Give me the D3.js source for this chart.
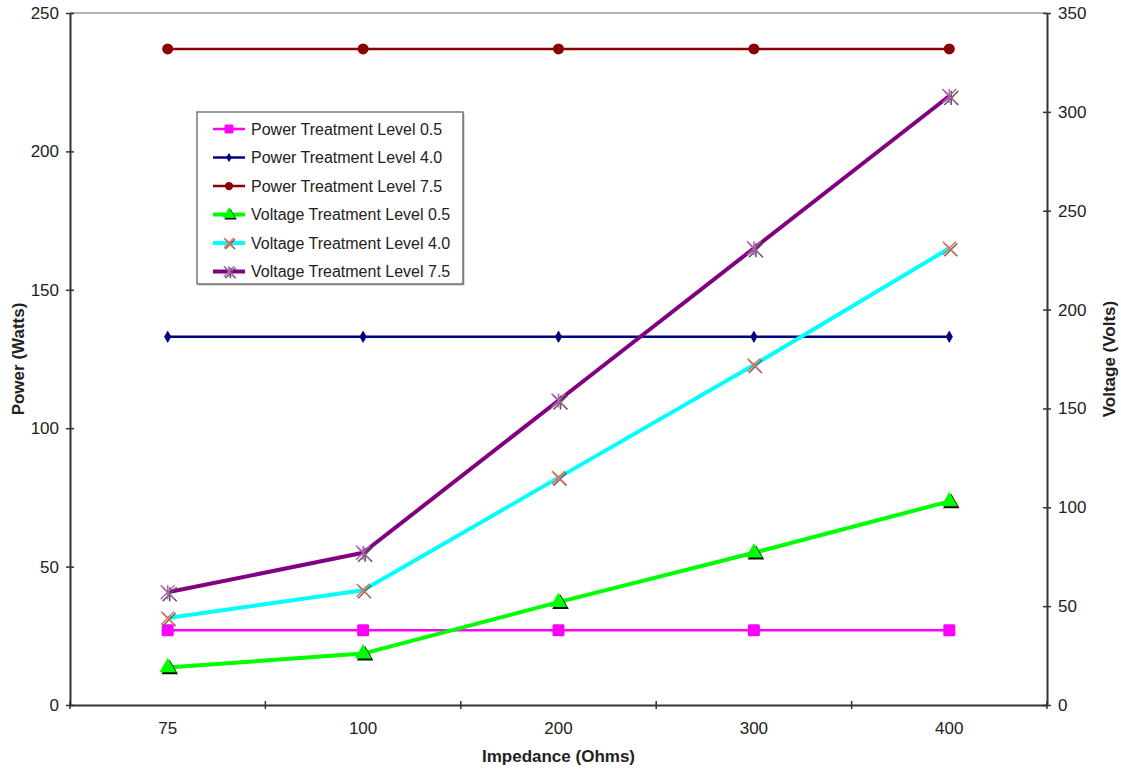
<!DOCTYPE html>
<html>
<head>
<meta charset="utf-8">
<script src="https://cdn.jsdelivr.net/npm/d3@7"></script>
<style>
  body { margin: 0; background: #fff; }
  text { font-family: "Liberation Sans", Arial, sans-serif; }
</style>
</head>
<body>
<div id="chart"></div>
<script>
// categories and series values
const impedance = ["75", "100", "200", "300", "400"];
const powerLevel05 = [27, 27, 27, 27, 27];
const powerLevel40 = [133, 133, 133, 133, 133];
const powerLevel75 = [237, 237, 237, 237, 237];
const voltageLevel05 = [19, 26, 52, 77, 103];
const voltageLevel40 = [44, 58, 115, 172, 231];
const voltageLevel75 = [57, 77, 154, 231, 308];
const powerTicks = [0, 50, 100, 150, 200, 250];
const voltageTicks = [0, 50, 100, 150, 200, 250, 300, 350];

const series = [
  { name: "Power Treatment Level 0.5", values: powerLevel05, axis: "left", color: "#ff00ff", width: 2.5, marker: "square" },
  { name: "Power Treatment Level 4.0", values: powerLevel40, axis: "left", color: "#000080", width: 2.5, marker: "diamond" },
  { name: "Power Treatment Level 7.5", values: powerLevel75, axis: "left", color: "#8b0000", width: 2.5, marker: "circle" },
  { name: "Voltage Treatment Level 0.5", values: voltageLevel05, axis: "right", color: "#00ff00", width: 4, marker: "triangle" },
  { name: "Voltage Treatment Level 4.0", values: voltageLevel40, axis: "right", color: "#00ffff", width: 4, marker: "x" },
  { name: "Voltage Treatment Level 7.5", values: voltageLevel75, axis: "right", color: "#800080", width: 4, marker: "star" }
];

const width = 1121, height = 771;
const margin = { top: 13, right: 74, bottom: 66, left: 70 };
const innerW = width - margin.left - margin.right;
const innerH = height - margin.top - margin.bottom;

const svg = d3.select("#chart").append("svg")
  .attr("width", width).attr("height", height);
const g = svg.append("g").attr("transform", `translate(${margin.left},${margin.top})`);

const x = d3.scaleBand().domain(impedance).range([0, innerW]);
const yLeft = d3.scaleLinear().domain([0, 250]).range([innerH, 0]);
const yRight = d3.scaleLinear().domain([0, 350]).range([innerH, 0]);

// top border
g.append("line").attr("x1", 0).attr("x2", innerW).attr("y1", 0).attr("y2", 0)
  .attr("stroke", "#999").attr("stroke-width", 1.5);

// axes
const axisColor = "#333";
function styleAxis(sel) {
  sel.select(".domain").attr("stroke", axisColor).attr("stroke-width", 2);
  sel.selectAll(".tick line").attr("stroke", axisColor).attr("stroke-width", 1.5);
  sel.selectAll(".tick text").attr("fill", "#222").style("font-size", "17px")
    .style("font-family", "'Liberation Sans', Arial, sans-serif");
}

const leftAxis = g.append("g")
  .call(d3.axisLeft(yLeft).tickValues(powerTicks).tickSize(4).tickSizeOuter(0).tickPadding(7));
leftAxis.selectAll(".tick line").attr("x2", 4).attr("x1", -4);
styleAxis(leftAxis);

const rightAxis = g.append("g").attr("transform", `translate(${innerW},0)`)
  .call(d3.axisRight(yRight).tickValues(voltageTicks).tickSize(4).tickSizeOuter(0).tickPadding(7));
rightAxis.selectAll(".tick line").attr("x1", -4).attr("x2", 4);
styleAxis(rightAxis);

const bottomAxis = g.append("g").attr("transform", `translate(0,${innerH})`)
  .call(d3.axisBottom(x).tickSize(0).tickPadding(17));
styleAxis(bottomAxis);
// ticks between categories
const bounds = impedance.map(d => x(d)).concat([innerW]);
bottomAxis.selectAll(".sep").data(bounds).join("line").attr("class", "sep")
  .attr("x1", d => d).attr("x2", d => d).attr("y1", -4).attr("y2", 4)
  .attr("stroke", axisColor).attr("stroke-width", 1.5);

// axis titles
svg.append("text").attr("transform", `translate(24,${margin.top + innerH / 2}) rotate(-90)`)
  .attr("text-anchor", "middle").style("font-size", "17px").style("font-weight", "bold")
  .attr("fill", "#222").text("Power (Watts)");
svg.append("text").attr("transform", `translate(1115,${margin.top + innerH / 2}) rotate(-90)`)
  .attr("text-anchor", "middle").style("font-size", "17px").style("font-weight", "bold")
  .attr("fill", "#222").text("Voltage (Volts)");
svg.append("text").attr("x", margin.left + innerW / 2).attr("y", 762)
  .attr("text-anchor", "middle").style("font-size", "17px").style("font-weight", "bold")
  .attr("fill", "#222").text("Impedance (Ohms)");

// marker drawing
function drawMarker(sel, type, color, cx, cy, scale) {
  const s = scale || 1;
  if (type === "square") {
    sel.append("rect").attr("x", cx - 6 * s).attr("y", cy - 6 * s).attr("width", 12 * s).attr("height", 12 * s)
      .attr("rx", 1.5).attr("fill", color);
  } else if (type === "diamond") {
    sel.append("path").attr("d", d3.symbol(d3.symbolDiamond, 45 * s * s)()).attr("transform", `translate(${cx},${cy})`)
      .attr("fill", color);
  } else if (type === "circle") {
    sel.append("circle").attr("cx", cx).attr("cy", cy).attr("r", 5.5 * s).attr("fill", color);
  } else if (type === "triangle") {
    const t = d3.symbol(d3.symbolTriangle, 120 * s * s)();
    sel.append("path").attr("d", t).attr("transform", `translate(${cx + 2 * s},${cy + 2 * s})`).attr("fill", "#111");
    sel.append("path").attr("d", t).attr("transform", `translate(${cx},${cy})`).attr("fill", color);
  } else if (type === "x") {
    const r = 6.5 * s;
    const p = `M${-r},${-r}L${r},${r}M${-r},${r}L${r},${-r}`;
    sel.append("path").attr("d", p).attr("transform", `translate(${cx + 1.5 * s},${cy + 1.5 * s})`)
      .attr("stroke", "#666").attr("stroke-width", 1.5).attr("fill", "none");
    sel.append("path").attr("d", p).attr("transform", `translate(${cx},${cy})`)
      .attr("stroke", "#f26a55").attr("stroke-width", 1.5).attr("fill", "none");
  } else if (type === "star") {
    const r = 7 * s;
    const p = `M${-r},${-r}L${r},${r}M${-r},${r}L${r},${-r}M0,${-r}L0,${r}`;
    sel.append("path").attr("d", p).attr("transform", `translate(${cx + 2 * s},${cy + 2 * s})`)
      .attr("stroke", "#555").attr("stroke-width", 1.5).attr("fill", "none");
    sel.append("path").attr("d", p).attr("transform", `translate(${cx},${cy})`)
      .attr("stroke", "#b060b0").attr("stroke-width", 1.5).attr("fill", "none");
  }
}

// lines and markers
const cx = d => x(d) + x.bandwidth() / 2;
series.forEach(s => {
  const yScale = s.axis === "left" ? yLeft : yRight;
  const pts = impedance.map((c, i) => [cx(c), yScale(s.values[i])]);
  g.append("path").datum(pts)
    .attr("d", d3.line())
    .attr("fill", "none").attr("stroke", s.color).attr("stroke-width", s.width)
    .attr("stroke-linejoin", "round");
  const mg = g.append("g");
  pts.forEach(p => drawMarker(mg, s.marker, s.color, p[0], p[1], 1));
});

// legend
const legend = svg.append("g").attr("transform", "translate(197,112)");
legend.append("rect").attr("x", 1.5).attr("y", 1.5).attr("width", 266).attr("height", 172)
  .attr("fill", "#bbb");
legend.append("rect").attr("width", 266).attr("height", 172)
  .attr("fill", "#fff").attr("stroke", "#555").attr("stroke-width", 1.2);
series.forEach((s, i) => {
  const ly = 17 + i * 28.5;
  legend.append("line").attr("x1", 16).attr("x2", 48).attr("y1", ly).attr("y2", ly)
    .attr("stroke", s.color).attr("stroke-width", s.width);
  drawMarker(legend, s.marker, s.color, 32, ly, 0.75);
  legend.append("text").attr("x", 54).attr("y", ly + 5.5).style("font-size", "16px")
    .attr("fill", "#222").text(s.name);
});
</script>
</body>
</html>
